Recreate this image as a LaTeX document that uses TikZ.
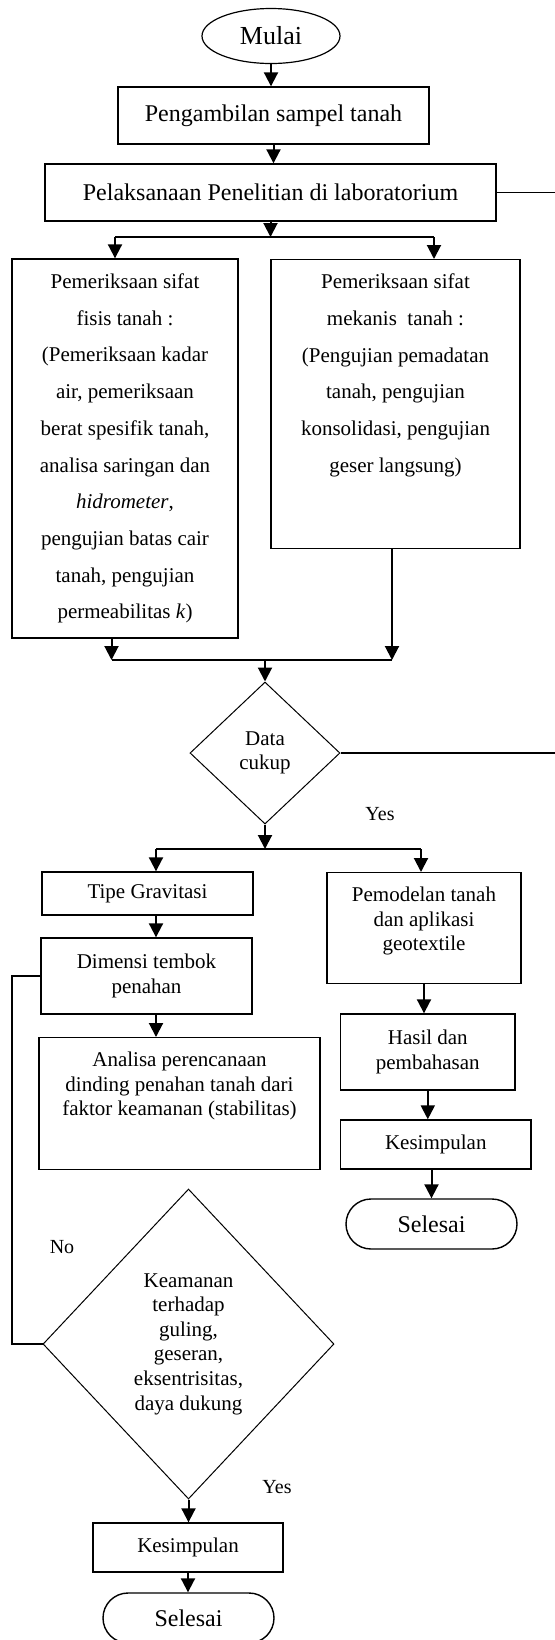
\documentclass[tikz,border=0pt]{standalone}
\usepackage{fontspec}
\setmainfont{Liberation Serif}
\usepackage{amsmath,amssymb}
\usepackage{tikz}
\usetikzlibrary{shapes.geometric,arrows.meta}

\tikzset{
  procbox/.style={draw, line width=0.7pt, inner sep=0pt, align=flush center,
    font=\fontsize{10.5}{12.3}\selectfont},
  bigbox/.style={procbox, font=\fontsize{12}{14}\selectfont},
  tallbox/.style={procbox, font=\fontsize{10.5}{18.35}\selectfont},
  decision/.style={diamond, draw, line width=0.5pt, inner sep=0pt, align=center,
    font=\fontsize{10.5}{12.3}\selectfont},
  terminal/.style={draw, rounded corners=12.5pt, line width=0.7pt, inner sep=0pt,
    font=\fontsize{12}{14}\selectfont},
  arr/.style={-{Triangle[width=7pt,length=7pt]}, line width=1pt},
  plain/.style={line width=0.6pt},
  lbl/.style={font=\fontsize{10}{12}\selectfont}
}

\begin{document}
\begin{tikzpicture}[x=0.5pt, y=-0.5pt]
    \useasboundingbox (0,0) rectangle (555,1640);
    \coordinate (edge) at (555,0);
    \coordinate (c0) at (12,0);

    \node[ellipse, draw, line width=0.6pt, minimum width=69pt, minimum height=27.5pt, inner sep=0pt,
      font=\fontsize{13}{15}\selectfont] (mulai) at (271,36) {Mulai};
    \node[bigbox, minimum width=155.5pt, minimum height=28.5pt] (ambil) at (273.5,115.5) {Pengambilan sampel tanah};
    \node[bigbox, minimum width=225.5pt, minimum height=28.5pt] (laksana) at (270.5,192.5) {Pelaksanaan Penelitian di laboratorium};

    \node[tallbox, minimum width=113pt, minimum height=189.5pt] (fisis) at (125,448.5)
      {Pemeriksaan sifat\\fisis tanah :\\(Pemeriksaan kadar\\air, pemeriksaan\\berat spesifik tanah,\\analisa saringan dan\\\textit{hidrometer},\\pengujian batas cair\\tanah, pengujian\\permeabilitas \textit{k})};
    \node[tallbox, anchor=north, text width=124.5pt, text height=14.5pt, text depth=130pt] (mekanis) at (395.5,259)
      {Pemeriksaan sifat\\mekanis~ tanah :\\(Pengujian pemadatan\\tanah, pengujian\\konsolidasi, pengujian\\geser langsung)};

    \node[decision, minimum width=75pt, minimum height=71pt] (data) at (265,753) {Data\\cukup};
    \node[lbl] (yes1) at (380,814) {Yes};

    \node[procbox, minimum width=105.5pt, minimum height=21.5pt] (tipe) at (147.5,893.5) {Tipe Gravitasi};
    \node[procbox, minimum width=105.5pt, minimum height=38pt] (dimensi) at (146.5,976) {Dimensi tembok\\penahan};
    \node[procbox, anchor=north, text width=140.5pt, text height=14.5pt, text depth=51.5pt] (analisa) at (179.5,1037)
      {Analisa perencanaan\\dinding penahan tanah dari\\faktor keamanan (stabilitas)};
    \node[decision, minimum width=145.5pt, minimum height=155pt] (aman) at (188.5,1344)
      {Keamanan\\terhadap\\guling,\\geseran,\\eksentrisitas,\\daya dukung};
    \node[lbl] (no) at (62,1247) {No};
    \node[lbl] (yes2) at (277,1487) {Yes};
    \node[procbox, minimum width=95pt, minimum height=24.5pt] (kes2) at (188,1547.5) {Kesimpulan};
    \node[terminal, minimum width=85.5pt, minimum height=25pt] (sel2) at (188.5,1618) {Selesai};

    \node[procbox, anchor=north, text width=97pt, text height=14.5pt, text depth=41pt] (model) at (424,872)
      {Pemodelan tanah\\dan aplikasi\\geotextile};
    \node[procbox, minimum width=87.25pt, minimum height=38pt] (hasil) at (427.8,1052) {Hasil dan\\pembahasan};
    \node[procbox, minimum width=95.25pt, minimum height=24.5pt] (kes1) at (435.8,1144.5) {Kesimpulan};
    \node[terminal, minimum width=85.5pt, minimum height=25pt] (sel1) at (431.5,1224) {Selesai};

    \coordinate (s1l) at (115,237);
    \coordinate (s1r) at (434,237);
    \coordinate (j1l) at (111.5,660);
    \coordinate (j1r) at (392,660);
    \coordinate (s2l) at (156,849);
    \coordinate (s2r) at (421,849);

    \draw[arr] (mulai.south) -- (mulai.south |- ambil.north);
    \draw[arr] (ambil.south) -- (ambil.south |- laksana.north);
    \draw[plain] (laksana.east) -- (laksana.east -| edge);
    \draw[arr] (laksana.south) -- (laksana.south |- s1l);
    \draw[plain] (s1l) -- (s1r);
    \draw[arr] (s1l) -- (s1l |- fisis.north);
    \draw[arr] (s1r) -- (s1r |- mekanis.north);

    \draw[arr] (j1l |- fisis.south) -- (j1l);
    \draw[arr] (j1r |- mekanis.south) -- (j1r);
    \draw[plain] (j1l) -- (j1r);
    \draw[arr] (data.north |- j1l) -- (data.north);
    \draw[plain] (data.east) -- (data.east -| edge);

    \draw[arr] (data.south) -- (data.south |- s2l);
    \draw[plain] (s2l) -- (s2r);
    \draw[arr] (s2l) -- (s2l |- tipe.north);
    \draw[arr] (s2r) -- (s2r |- model.north);

    \draw[arr] (s2l |- tipe.south) -- (s2l |- dimensi.north);
    \draw[arr] (s2l |- dimensi.south) -- (s2l |- analisa.north);
    \draw[plain] (aman.west) -| (c0 |- dimensi.west) -- (dimensi.west);
    \draw[arr] (aman.south) -- (aman.south |- kes2.north);
    \draw[arr] (kes2.south) -- (kes2.south |- sel2.north);

    \draw[arr] (model.south) -- (model.south |- hasil.north);
    \draw[arr] (hasil.south) -- (hasil.south |- kes1.north);
    \draw[arr] (sel1.north |- kes1.south) -- (sel1.north);
\end{tikzpicture}
\end{document}
